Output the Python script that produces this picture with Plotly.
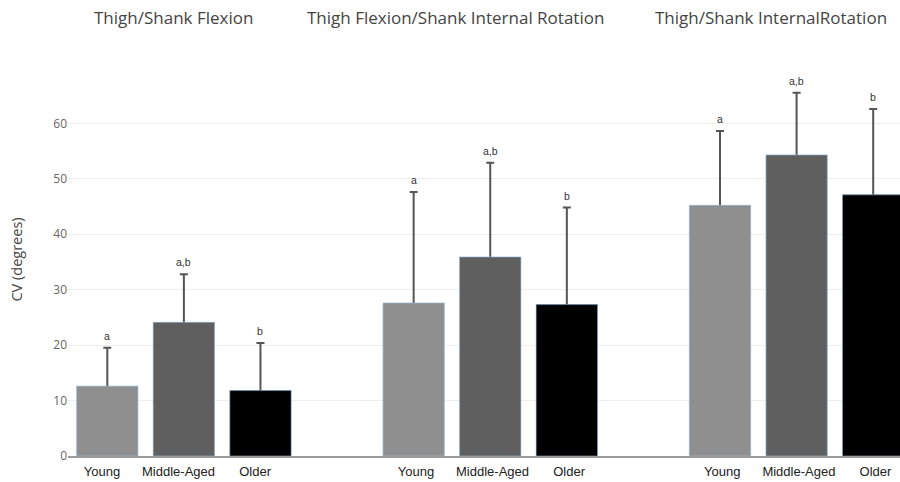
import plotly.graph_objects as go

# ---- data ----
panels = ["Thigh/Shank Flexion", "Thigh Flexion/Shank Internal Rotation", "Thigh/Shank InternalRotation"]
categories = ["Young", "Middle-Aged", "Older"]
young_mean = [12.6, 27.6, 45.2]
middle_mean = [24.1, 35.9, 54.3]
older_mean = [11.8, 27.3, 47.1]
young_sd = [6.9, 20.0, 13.4]
middle_sd = [8.7, 17.0, 11.2]
older_sd = [8.6, 17.5, 15.5]
letters = ["a", "a,b", "b"]
y_ticks = [0, 10, 20, 30, 40, 50, 60]

means = [young_mean, middle_mean, older_mean]
sds = [young_sd, middle_sd, older_sd]
colors = ["#8f8f8f", "#5f5f5f", "#000000"]
edge = "#a9cbea"

fig = go.Figure()

def xpos(ci):
    return [g * 4 + ci for g in range(len(panels))]

# bars carrying error bars (lower half later hidden by overlay bars)
for ci, cat in enumerate(categories):
    fig.add_trace(go.Bar(
        x=xpos(ci), y=means[ci], width=0.8,
        marker=dict(color=colors[ci], line=dict(color=edge, width=0.5)),
        error_y=dict(type="data", array=sds[ci], visible=True,
                     color="#555555", thickness=2, width=4),
        showlegend=False, hoverinfo="skip"))

# covering bars
for ci, cat in enumerate(categories):
    fig.add_trace(go.Bar(
        x=xpos(ci), y=means[ci], width=0.8,
        marker=dict(color=colors[ci], line=dict(color=edge, width=0.5)),
        showlegend=False, hoverinfo="skip"))

# significance letters
for ci in range(len(categories)):
    for g in range(len(panels)):
        fig.add_annotation(
            x=g * 4 + ci, y=means[ci][g] + sds[ci][g],
            text=letters[ci], showarrow=False, yanchor="bottom", yshift=4,
            font=dict(family="Liberation Sans", size=10.5, color="#333333"))

# panel titles
title_x = [0.87, 4.55, 8.66]
for g, t in enumerate(panels):
    fig.add_annotation(
        x=title_x[g], xref="x", y=1.0854, yref="paper",
        text=t, showarrow=False, xanchor="center", yanchor="middle",
        font=dict(family="Open Sans", size=17, color="#444444"))

# y axis title
fig.add_annotation(
    x=-0.0619, xref="paper", y=0.4876, yref="paper", text="CV (degrees)",
    textangle=-90, showarrow=False, xanchor="center", yanchor="middle",
    font=dict(family="Open Sans", size=14.5, color="#444444"))

label_shift = [-0.07, 0.03, 0.03]
tickvals = [g * 4 + ci + label_shift[g] for g in range(len(panels)) for ci in range(len(categories))]
ticktext = [categories[ci] for g in range(len(panels)) for ci in range(len(categories))]

fig.update_layout(
    width=900, height=482,
    margin=dict(l=68, r=0, t=52, b=26),
    paper_bgcolor="white", plot_bgcolor="white",
    barmode="overlay",
    showlegend=False,
    hovermode=False,
    xaxis=dict(range=[-0.513, 10.35], tickvals=tickvals, ticktext=ticktext,
               showgrid=False, zeroline=False, showline=True,
               linecolor="#9a9a9a", linewidth=2, ticks="", ticklabelstandoff=2,
               tickfont=dict(family="Liberation Sans", size=13, color="#222222")),
    yaxis=dict(range=[0, 72.86], tickvals=y_ticks, showgrid=True,
               gridcolor="#eeeeee", gridwidth=1, zeroline=False, showline=False,
               ticks="", tickfont=dict(family="Open Sans", size=12, color="#666666")),
)

fig.write_html(
    "out.html",
    config={"displayModeBar": False},
    post_script="document.body.style.margin='0';document.body.style.overflow='hidden';",
)
